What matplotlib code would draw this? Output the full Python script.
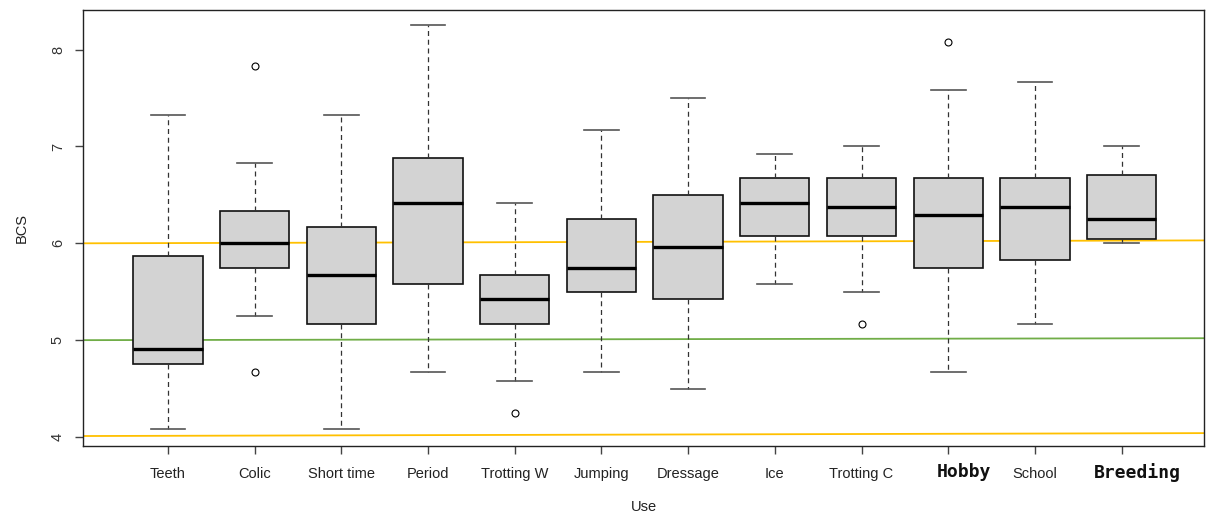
import matplotlib.pyplot as plt
from matplotlib.transforms import ScaledTranslation

# Datos de las cajas
usos = ['Teeth', 'Colic', 'Short time', 'Period', 'Trotting W', 'Jumping',
        'Dressage', 'Ice', 'Trotting C', 'Hobby', 'School', 'Breeding']
bigote_sup = [7.33, 6.83, 7.33, 8.25, 6.42, 7.17, 7.50, 6.92, 7.00, 7.58, 7.67, 7.00]
q3 = [5.87, 6.33, 6.17, 6.88, 5.67, 6.25, 6.50, 6.67, 6.67, 6.67, 6.67, 6.71]
mediana = [4.91, 6.00, 5.67, 6.42, 5.42, 5.75, 5.96, 6.42, 6.38, 6.29, 6.38, 6.25]
q1 = [4.75, 5.75, 5.17, 5.58, 5.17, 5.50, 5.42, 6.08, 6.08, 5.75, 5.83, 6.04]
bigote_inf = [4.08, 5.25, 4.08, 4.67, 4.58, 4.67, 4.50, 5.58, 5.50, 4.67, 5.17, 6.00]
atipicos = [[], [7.83, 4.67], [], [], [4.25], [], [], [], [5.17], [8.08], [], []]

# Etiquetas que salen con otra fuente en el original
especiales = ['Hobby', 'Breeding']

# Lineas de referencia (ligeramente inclinadas)
lineas_y0 = [6.00, 5.00, 4.01]
lineas_y1 = [6.03, 5.02, 4.04]
lineas_col = ['#FFC000', '#70AD47', '#FFC000']

stats = []
for i in range(len(usos)):
    stats.append(dict(med=mediana[i], q1=q1[i], q3=q3[i], whislo=bigote_inf[i],
                      whishi=bigote_sup[i], fliers=atipicos[i], label=usos[i]))

fig = plt.figure(figsize=(12.06, 5.22), dpi=100)
ax = fig.add_axes([0.0688, 0.1456, 0.9295, 0.8354])

xmin, xmax = 0.02, 12.95
for y0, y1, c in zip(lineas_y0, lineas_y1, lineas_col):
    ax.plot([xmin, xmax], [y0, y1], color=c, lw=1.3, zorder=1)

ax.bxp(stats, positions=range(1, len(usos) + 1), widths=0.8, patch_artist=True,
       boxprops=dict(facecolor='#D3D3D3', edgecolor='#111111', linewidth=1.2),
       medianprops=dict(color='black', linewidth=2.4),
       whiskerprops=dict(color='#333333', linewidth=0.9, linestyle=(0, (4, 3))),
       capprops=dict(color='#555555', linewidth=1.2),
       flierprops=dict(marker='o', markersize=5, markerfacecolor='none',
                       markeredgecolor='black', markeredgewidth=0.8),
       zorder=2)

ax.set_xlim(xmin, xmax)
ax.set_ylim(3.907, 8.41)
ax.set_yticks([4, 5, 6, 7, 8])
ax.set_yticklabels(['4', '5', '6', '7', '8'], rotation=90, va='center',
                   fontsize=10.5, family='Liberation Sans', color='#333333')
ax.set_xticks(range(1, len(usos) + 1))
ax.set_xticklabels(['' if u in especiales else u for u in usos],
                   fontsize=10.5, family='Liberation Sans', color='#222222')

# Hobby y Breeding: fuente monoespaciada y algo desplazadas a la derecha
desplazar = ScaledTranslation(16 / 100, -17 / 100, fig.dpi_scale_trans)
for i, u in enumerate(usos):
    if u in especiales:
        ax.text(i + 1, 0, u, transform=ax.get_xaxis_transform() + desplazar,
                ha='center', va='top', family='DejaVu Sans Mono', fontsize=13,
                fontweight='semibold', color='#111111')

ax.tick_params(axis='both', length=6, width=1, color='#444444')
ax.tick_params(axis='x', pad=9)
ax.tick_params(axis='y', pad=7)

ax.set_xlabel('Use', fontsize=10.5, family='Liberation Sans', color='#222222', labelpad=14)
ax.set_ylabel('BCS', fontsize=10.5, family='Liberation Sans', color='#222222', labelpad=16)
for s in ax.spines.values():
    s.set_color('#222222')
    s.set_linewidth(1)

plt.savefig('out.png', dpi=100)
